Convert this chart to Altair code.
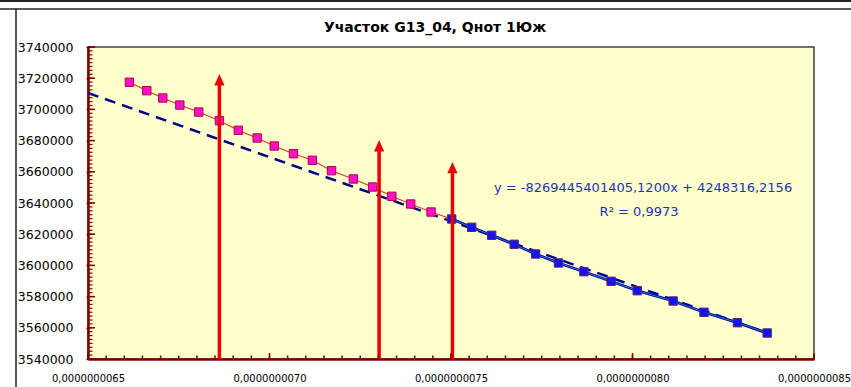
import altair as alt
import pandas as pd

# ---- data (x in units of 1e-9) ----
pink_x = [6.614, 6.662, 6.706, 6.753, 6.805, 6.862, 6.914, 6.966, 7.013, 7.066,
          7.118, 7.171, 7.231, 7.284, 7.337, 7.389, 7.445]
pink_y = [3717400, 3712000, 3707300, 3702800, 3698300, 3692760, 3686600, 3681670,
          3676540, 3671600, 3667370, 3660700, 3655400, 3650260, 3644300, 3639360, 3634230]
blue_x = [7.502, 7.557, 7.612, 7.674, 7.733, 7.796, 7.866, 7.941, 8.013, 8.112,
          8.197, 8.289, 8.371]
blue_y = [3629740, 3624420, 3619300, 3613530, 3607310, 3601540, 3595960, 3589810,
          3583780, 3577180, 3569940, 3563270, 3556670]
trend_x = [6.5, 8.371]
trend_y = [3710500, 3556700]
arrow_x = [6.862, 7.302, 7.504]
arrow_top = [3722700, 3680400, 3666300]
arrow_base = 3540000

x_min, x_max = 6.5, 8.5
y_min, y_max = 3540000, 3740000
x_ticks = [6.5, 7.0, 7.5, 8.0, 8.5]
y_ticks = list(range(y_min, y_max + 1, 20000))
x_minor = [round(6.5 + 0.05 * i, 3) for i in range(41)]
y_minor = list(range(y_min, y_max + 1, 2500))

title_text = "Участок G13_04, Qнот 1Юж"
eq_text = "y = -8269445401405,1200x + 4248316,2156"
r2_text = "R² = 0,9973"
eq_pos = (8.029, 3649600)
r2_pos = (8.018, 3634230)

E = 1e-9
W, H = 726, 312
FONT = "DejaVu Sans"
AX = "#800000"

pink = pd.DataFrame({"x": [v * E for v in pink_x], "y": pink_y})
pink_line = pd.DataFrame({"x": [v * E for v in pink_x + blue_x[:1]], "y": pink_y + blue_y[:1]})
blue = pd.DataFrame({"x": [v * E for v in blue_x], "y": blue_y})
trend = pd.DataFrame({"x": [v * E for v in trend_x], "y": trend_y})
arrows = pd.DataFrame({"x": [v * E for v in arrow_x], "y": [arrow_base] * 3, "y2": arrow_top})
texts = pd.DataFrame({"x": [eq_pos[0] * E, r2_pos[0] * E], "y": [eq_pos[1], r2_pos[1]],
                      "t": [eq_text, r2_text]})
xminor_df = pd.DataFrame({"x": [v * E for v in x_minor], "y": [y_min] * len(x_minor)})
xmajor_df = pd.DataFrame({"x": [v * E for v in x_ticks], "y": [y_min] * len(x_ticks)})
yminor_df = pd.DataFrame({"x": [x_min * E] * len(y_minor), "y": y_minor})
ymajor_df = pd.DataFrame({"x": [x_min * E] * len(y_ticks), "y": y_ticks})
one = pd.DataFrame({"t": [title_text]})

xs = alt.Scale(domain=[x_min * E, x_max * E], nice=False, zero=False)
ys = alt.Scale(domain=[y_min, y_max], nice=False, zero=False)

main_x_axis = alt.Axis(orient="bottom", values=[v * E for v in x_ticks], title=None,
                       labelExpr="replace(format(datum.value, '.10f'), '.', ',')",
                       labelFont=FONT, labelFontSize=10, labelColor="#000000",
                       labelPadding=14, labelFlush=False, ticks=False, grid=False,
                       domainColor=AX, domainWidth=2.5)
main_y_axis = alt.Axis(orient="left", values=y_ticks, title=None, format="d",
                       labelFont=FONT, labelFontSize=12.5, labelColor="#000000",
                       labelPadding=13, tickSize=2, tickColor=AX, tickWidth=1.5, grid=False,
                       domainColor=AX, domainWidth=2.5)


def X():
    return alt.X("x:Q", scale=xs, axis=main_x_axis, title=None)


def Y(field="y:Q"):
    return alt.Y(field, scale=ys, axis=main_y_axis, title=None)


def tick_layer(df, path, size, width):
    return alt.Chart(df).mark_point(shape=path, size=size, filled=False, stroke=AX,
                                    strokeWidth=width, opacity=1).encode(x=X(), y=Y())


xminor_layer = tick_layer(xminor_df, "M0,0L0,-1", 49, 1.5)
xmajor_layer = tick_layer(xmajor_df, "M0,0L0,-1", 144, 1.5)
yminor_layer = tick_layer(yminor_df, "M0,0L1,0", 81, 1.2)
ymajor_layer = tick_layer(ymajor_df, "M0,0L1,0", 196, 1.5)

trend_layer = alt.Chart(trend).mark_line(color="#00008B", strokeWidth=2.5,
                                         strokeDash=[11, 7]).encode(x=X(), y=Y())
pink_l = alt.Chart(pink_line).mark_line(color="#CC4422", strokeWidth=1.2).encode(x=X(), y=Y())
blue_l = alt.Chart(blue).mark_line(color="#000099", strokeWidth=2.8).encode(x=X(), y=Y())
blue_l2 = alt.Chart(blue).mark_line(color="#3399FF", strokeWidth=0.8).encode(x=X(), y=Y())
pink_p = alt.Chart(pink).mark_point(shape="square", filled=True, size=70, fill="#FF10C8",
                                    stroke="#B0004A", strokeWidth=1, opacity=1).encode(x=X(), y=Y())
blue_p = alt.Chart(blue).mark_point(shape="square", filled=True, size=70, fill="#1414F0",
                                    stroke="#602070", strokeWidth=1, opacity=1).encode(x=X(), y=Y())

arrow_rule = alt.Chart(arrows).mark_rule(color="#EE0000", strokeWidth=3.5, y2Offset=8).encode(
    x=X(), y=Y(), y2="y2:Q")
arrow_head = alt.Chart(arrows).mark_point(shape="M0,0L0.85,1.9L-0.85,1.9Z", filled=True, size=144,
                                          color="#EE0000", opacity=1).encode(x=X(), y=Y("y2:Q"))

text_layer = alt.Chart(texts).mark_text(font=FONT, fontSize=13, color="#1a33bb",
                                        align="center", baseline="middle").encode(
    x=X(), y=Y(), text="t:N")

title_layer = alt.Chart(one).mark_text(
    font=FONT, fontSize=14, fontWeight="bold", color="#000000", align="center",
    baseline="middle").encode(x=alt.value(347), y=alt.value(-19), text="t:N")


def frame_rule(x1, x2, y1, y2, w):
    return alt.Chart(one).mark_rule(color="#222222", strokeWidth=w).encode(
        x=alt.value(x1), x2=alt.value(x2), y=alt.value(y1), y2=alt.value(y2))


frame1 = frame_rule(-88, 851 - 88, -46, -46, 2.0)
frame2 = frame_rule(-88, 851 - 88, -38, -38, 1.5)
frame3 = frame_rule(-72, -72, -38, 387 - 47, 1.5)

chart = alt.layer(
    trend_layer, blue_l, blue_l2, pink_l, pink_p, blue_p,
    arrow_rule, arrow_head, xminor_layer, xmajor_layer, yminor_layer, ymajor_layer,
    text_layer, title_layer, frame1, frame2, frame3
).properties(
    width=W, height=H,
    autosize=alt.AutoSizeParams(type="none"),
    padding={"left": 88, "top": 47, "right": 851 - 88 - W, "bottom": 387 - 47 - H},
    background="#FFFFFF",
).configure_view(fill="#FFFFCC", stroke="#404040", strokeWidth=1.5)

chart.save("out.html", embed_options={"renderer": "svg", "actions": False})
